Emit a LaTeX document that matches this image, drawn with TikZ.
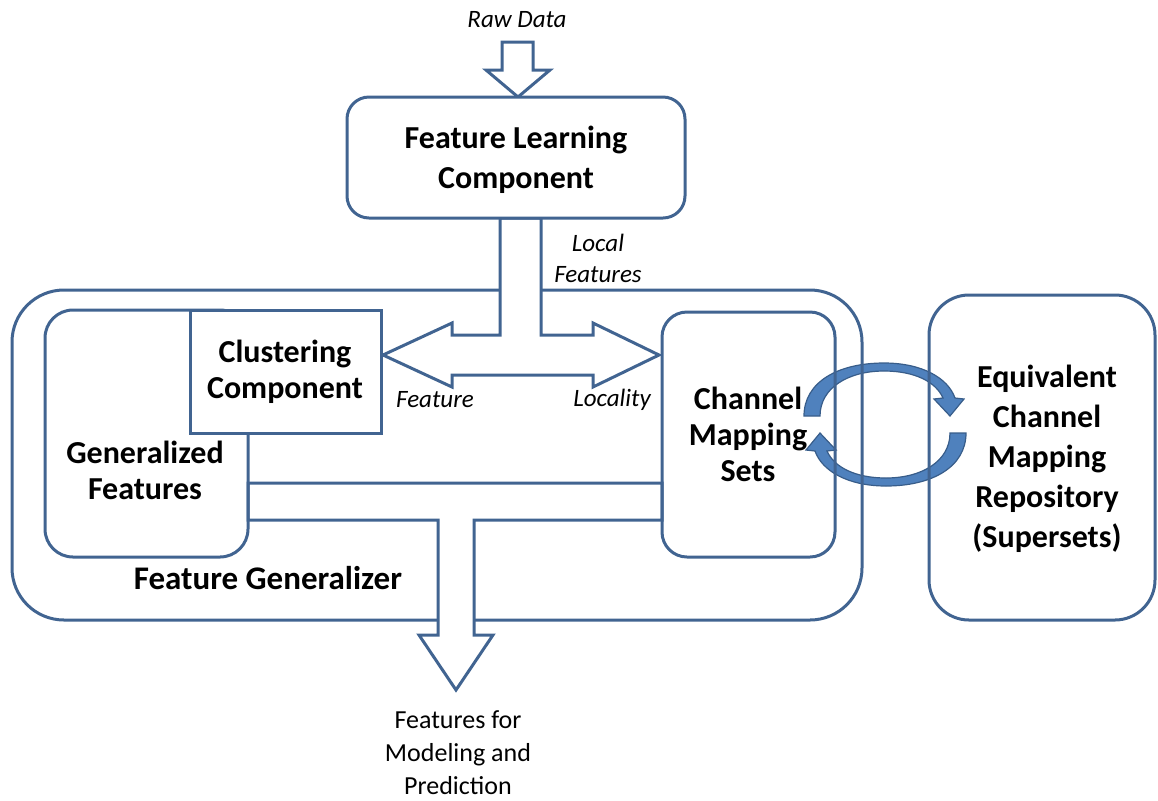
\documentclass[tikz,border=0pt]{standalone}
\usepackage{fontspec}
\setmainfont{Carlito}
\definecolor{edge}{RGB}{65,100,145}
\definecolor{arrfill}{RGB}{79,129,189}
\definecolor{arrline}{RGB}{56,93,138}
\tikzset{
  boxline/.style={draw=edge, line width=1.5pt},
  rbox/.style={boxline, rounded corners=#1, inner sep=0pt},
  sbox/.style={boxline, inner sep=0pt},
  blockarrow/.style={boxline, fill=white, line join=miter},
  curarrow/.style={fill=arrfill, draw=arrline, line width=0.6pt},
  boldtxt/.style={font=\fontsize{16}{18}\selectfont\bfseries, align=center, inner sep=0pt},
  italtxt/.style={font=\fontsize{12.5}{15.5}\selectfont\itshape, align=center, inner sep=0pt},
  plaintxt/.style={font=\fontsize{13}{16.5}\selectfont, align=center, inner sep=0pt},
}
\begin{document}
\begin{tikzpicture}[x=0.5pt,y=-0.5pt]
\useasboundingbox (0,0) rectangle (1158,800);

% circular exchange arrows
\foreach \r in {0,180}{
  \draw[curarrow, rotate around={\r:(885,424.5)}]
    (804,416) .. controls (804,382) and (838,363) .. (884,363)
    .. controls (922,363) and (948,378) .. (955,398)
    -- (964,399) -- (950,416) -- (934,399) -- (943,398)
    .. controls (936,382) and (915,371) .. (884,371)
    .. controls (848,371) and (820,388) .. (820,416) -- cycle;
}

% outer Feature Generalizer box
\node[rbox=26pt, minimum width=425pt, minimum height=165pt] (fg) at (437,455) {};

% Raw data input arrow
\draw[blockarrow] (502,42) -- (533,42) -- (533,70) -- (550,70) -- (518,97)
  -- (486,70) -- (502,70) -- cycle;

% local features T arrow
\draw[blockarrow] (500,218) -- (500,335) -- (452,335) -- (452,323) -- (383,355)
  -- (452,387) -- (452,375) -- (593,375) -- (593,387) -- (659,355)
  -- (593,323) -- (593,335) -- (541,335) -- (541,218) -- cycle;

% output T arrow
\draw[blockarrow] (248,483) -- (662,483) -- (662,520) -- (474,520) -- (474,635)
  -- (493,635) -- (456,690) -- (419,635) -- (438,635) -- (438,520)
  -- (248,520) -- cycle;

% boxes
\node[rbox=14pt, minimum width=101.5pt, minimum height=123.5pt] (gf) at (146.5,433.5) {};
\node[sbox, fill=white, minimum width=95.5pt, minimum height=61.5pt] (cl) at (285.5,371.5) {};
\node[rbox=12.5pt, minimum width=86.5pt, minimum height=122.5pt] (cms) at (748.5,434.5) {};
\node[rbox=20pt, minimum width=113pt, minimum height=162.5pt] (eq) at (1042,457.5) {};
\node[rbox=11pt, fill=white, minimum width=169pt, minimum height=60.5pt] (fl) at (516,157.5) {};

% texts
\node[boldtxt, font=\fontsize{16}{20}\selectfont\bfseries] (fltxt) at (516,160) {Feature Learning\\Component};
\node[boldtxt] (cltxt) at (285,372) {Clustering\\Component};
\node[boldtxt] (gftxt) at (145,470) {Generalized\\Features};
\node[boldtxt] (cmstxt) at (748,434) {Channel\\Mapping\\Sets};
\node[boldtxt, font=\fontsize{16}{20}\selectfont\bfseries] (eqtxt) at (1047,459) {Equivalent\\Channel\\Mapping\\Repository\\(Supersets)};
\node[boldtxt, font=\fontsize{16.5}{18}\selectfont\bfseries] (fgtxt) at (268,578) {Feature Generalizer};

\node[italtxt] (raw) at (517,20) {Raw Data};
\node[italtxt] (local) at (598,258) {Local\\Features};
\node[italtxt] (feat) at (435,400) {Feature};
\node[italtxt] (loc) at (612,400) {Locality};
\node[plaintxt] (out) at (458,753) {Features for\\Modeling and\\Prediction};
\end{tikzpicture}
\end{document}
